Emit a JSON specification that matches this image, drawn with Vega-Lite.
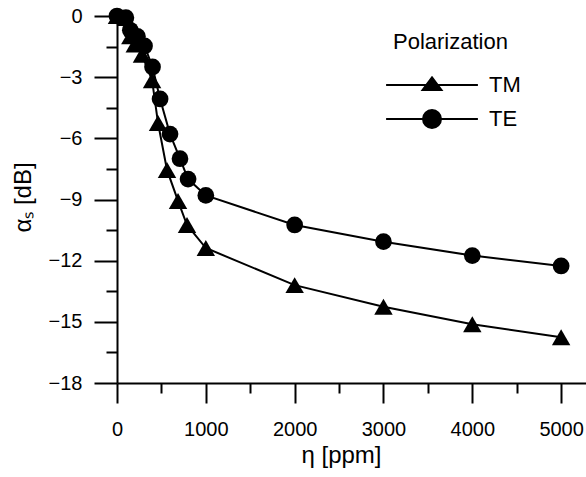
{
  "$schema": "https://vega.github.io/schema/vega-lite/v6.json",
  "width": 469,
  "height": 367,
  "autosize": {"type": "none"},
  "padding": {"left": 117, "top": 16, "right": 0, "bottom": 94},
  "background": "white",
  "config": {
    "view": {"stroke": null},
    "font": "Liberation Sans",
    "axis": {"grid": false, "domainColor": "black", "tickColor": "black", "labelColor": "black", "titleColor": "black", "domainWidth": 2, "tickWidth": 2, "labelFontSize": 20, "titleFontSize": 24, "titleFontWeight": "normal", "labelFlush": false},
    "legend": {"titleColor": "black", "labelColor": "black"}
  },
  "data": {
    "values": [
      {"series": "TE", "eta": 0, "alpha": 0},
      {"series": "TE", "eta": 100, "alpha": -0.08},
      {"series": "TE", "eta": 150, "alpha": -0.7},
      {"series": "TE", "eta": 230, "alpha": -1.0},
      {"series": "TE", "eta": 310, "alpha": -1.47},
      {"series": "TE", "eta": 400, "alpha": -2.5},
      {"series": "TE", "eta": 485, "alpha": -4.07},
      {"series": "TE", "eta": 597, "alpha": -5.79},
      {"series": "TE", "eta": 709, "alpha": -7.0},
      {"series": "TE", "eta": 800, "alpha": -8.0},
      {"series": "TE", "eta": 1000, "alpha": -8.8},
      {"series": "TE", "eta": 2000, "alpha": -10.25},
      {"series": "TE", "eta": 3000, "alpha": -11.07},
      {"series": "TE", "eta": 4000, "alpha": -11.75},
      {"series": "TE", "eta": 5000, "alpha": -12.26},
      {"series": "TM", "eta": 0, "alpha": 0},
      {"series": "TM", "eta": 100, "alpha": -0.1},
      {"series": "TM", "eta": 150, "alpha": -1.0},
      {"series": "TM", "eta": 200, "alpha": -1.4},
      {"series": "TM", "eta": 281, "alpha": -1.9},
      {"series": "TM", "eta": 395, "alpha": -3.15},
      {"series": "TM", "eta": 462, "alpha": -5.25},
      {"series": "TM", "eta": 563, "alpha": -7.55},
      {"series": "TM", "eta": 687, "alpha": -9.07},
      {"series": "TM", "eta": 788, "alpha": -10.25},
      {"series": "TM", "eta": 1000, "alpha": -11.38},
      {"series": "TM", "eta": 2000, "alpha": -13.2},
      {"series": "TM", "eta": 3000, "alpha": -14.26},
      {"series": "TM", "eta": 4000, "alpha": -15.12},
      {"series": "TM", "eta": 5000, "alpha": -15.76}
    ]
  },
  "encoding": {
    "x": {
      "field": "eta", "type": "quantitative",
      "scale": {"domain": [0, 5280], "nice": false, "zero": false},
      "axis": {
        "title": "η [ppm]",
        "values": [0, 500, 1000, 1500, 2000, 2500, 3000, 3500, 4000, 4500, 5000],
        "format": "d",
        "labelExpr": "datum.value % 1000 === 0 ? datum.label : ''",
        "tickSize": {"condition": {"test": "datum.value % 1000 === 0", "value": 20}, "value": 10},
        "labelPadding": 16,
        "titleX": 224,
        "titleY": 60,
        "titleBaseline": "top",
        "titleAnchor": null
      }
    },
    "y": {
      "field": "alpha", "type": "quantitative",
      "scale": {"domain": [-18, 0], "nice": false, "zero": false},
      "axis": {
        "title": "αₛ [dB]",
        "values": [0, -1.5, -3, -4.5, -6, -7.5, -9, -10.5, -12, -13.5, -15, -16.5, -18],
        "labelExpr": "datum.value % 3 === 0 ? datum.label : ''",
        "tickSize": {"condition": {"test": "datum.value % 3 === 0", "value": 23}, "value": 11},
        "labelPadding": 12,
        "titleAngle": -90,
        "titleX": -94,
        "titleY": 181,
        "titleAlign": "center",
        "titleBaseline": "middle"
      }
    }
  },
  "layer": [
    {
      "mark": {"type": "line", "strokeWidth": 2},
      "encoding": {
        "stroke": {
          "field": "series", "type": "nominal",
          "scale": {"domain": ["TM", "TE"], "range": ["black", "black"]},
          "legend": {
            "title": "Polarization",
            "orient": "none",
            "legendX": 276,
            "legendY": 16,
            "padding": 0,
            "titleFontSize": 22,
            "titleFontWeight": "normal",
            "titlePadding": 20,
            "labelFontSize": 22,
            "symbolSize": 324,
            "symbolStrokeWidth": 2,
            "symbolFillColor": "black",
            "symbolStrokeColor": "black",
            "symbolOffset": 28,
            "labelOffset": 46,
            "rowPadding": 10,
            "symbolType": {"expr": "datum.value === 'TM' ? 'M-5.1,0L5.1,0M0,-0.85L1.05,0.55L-1.05,0.55Z' : 'M-5.1,0L5.1,0M-1,0A1,1 0 1,0 1,0A1,1 0 1,0 -1,0Z'"},
            "encode": {
              "symbols": {
                "update": {
                  "fill": {"value": "black"},
                  "stroke": {"value": "black"},
                  "strokeWidth": {"value": 2}
                }
              }
            }
          }
        }
      }
    },
    {
      "transform": [{"filter": "datum.series === 'TM'"}],
      "mark": {"type": "point", "filled": true, "color": "black", "opacity": 1, "size": 340, "shape": "triangle-up"}
    },
    {
      "transform": [{"filter": "datum.series === 'TE'"}],
      "mark": {"type": "point", "filled": true, "color": "black", "opacity": 1, "size": 280, "shape": "circle"}
    }
  ]
}
